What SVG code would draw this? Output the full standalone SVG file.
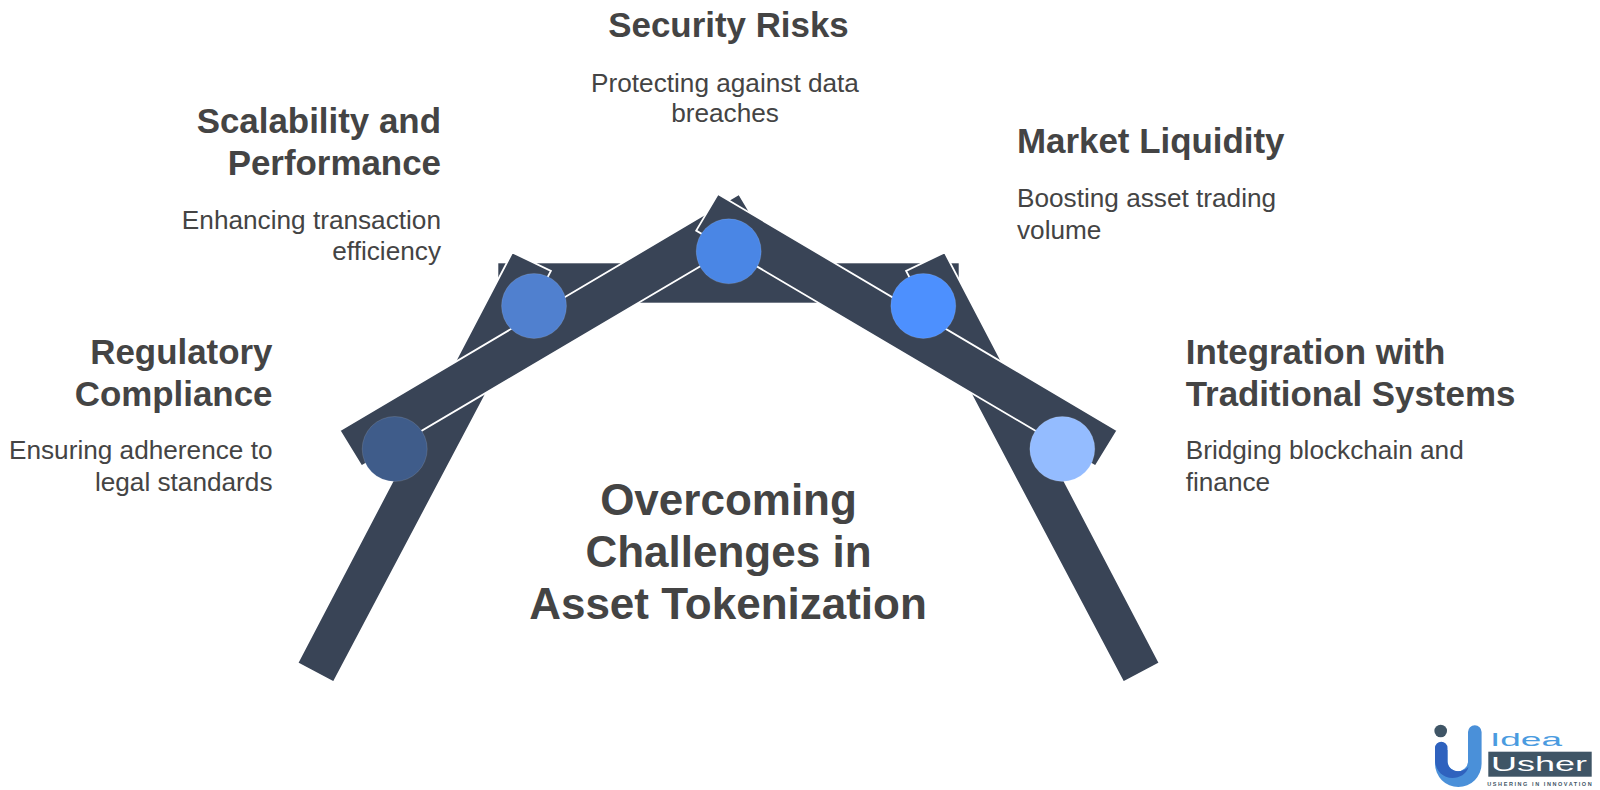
<svg xmlns="http://www.w3.org/2000/svg" width="1600" height="790" viewBox="0 0 1600 790">
<style>
text{font-family:"Liberation Sans",Arial,sans-serif;fill:#444}
.h{font-size:34.9px;font-weight:700}
.d{font-size:26.200px}
.t{font-size:44px;font-weight:700;text-anchor:middle}
.e{text-anchor:end}
.m{text-anchor:middle}
.bar{fill:#394456;stroke:#fff;stroke-width:1.8}
.c{stroke-width:1;stroke-opacity:.12;stroke:#fff}
</style>
<rect width="1600" height="790" fill="#fff"/>
<g id="connectors">
<rect class="bar" x="497.400" y="262.400" width="462.200" height="41.200"/>
<polygon class="bar" points="297.400,663 512.300,252.400 550.900,271 333.700,682.200"/>
<polygon class="bar" points="1159.600,663 944.700,252.400 906.100,271 1123.300,682.200"/>
<polygon class="bar" points="339.600,430.500 739.100,194 760.800,230.600 361.500,466.200"/>
<polygon class="bar" points="1117.400,430.500 717.900,194 696.200,230.600 1095.500,466.200"/>
</g>
<g id="node-regulatory">
<circle class="c" cx="394.700" cy="449" r="32.500" fill="#3F5C8A"/>
<text class="h e" x="272.500" y="363.500">Regulatory</text>
<text class="h e" x="272.500" y="405.500">Compliance</text>
<text class="d e" x="272.500" y="459">Ensuring adherence to</text>
<text class="d e" x="272.500" y="491">legal standards</text>
</g>
<g id="node-scalability">
<circle class="c" cx="534" cy="306" r="32.500" fill="#5080CF"/>
<text class="h e" x="441" y="132.500">Scalability and</text>
<text class="h e" x="441" y="174.500">Performance</text>
<text class="d e" x="441" y="228.500">Enhancing transaction</text>
<text class="d e" x="441" y="260">efficiency</text>
</g>
<g id="node-security">
<circle class="c" cx="728.700" cy="251.300" r="32.500" fill="#4A86E5"/>
<text class="h m" x="728.500" y="37">Security Risks</text>
<text class="d m" x="725" y="91.500">Protecting against data</text>
<text class="d m" x="725" y="122.300">breaches</text>
</g>
<g id="node-liquidity">
<circle class="c" cx="923.300" cy="306" r="32.500" fill="#4D90FE"/>
<text class="h" x="1017" y="153">Market Liquidity</text>
<text class="d" x="1017" y="207">Boosting asset trading</text>
<text class="d" x="1017" y="239">volume</text>
</g>
<g id="node-integration">
<circle class="c" cx="1062.300" cy="449" r="32.500" fill="#94BCFF"/>
<text class="h" x="1185.700" y="363.500">Integration with</text>
<text class="h" x="1185.700" y="405.500">Traditional Systems</text>
<text class="d" x="1185.700" y="459">Bridging blockchain and</text>
<text class="d" x="1185.700" y="491">finance</text>
</g>
<g id="node-title">
<text class="t" x="728.500" y="515">Overcoming</text>
<text class="t" x="728.500" y="567">Challenges in</text>
<text class="t" x="728" y="619">Asset Tokenization</text>
</g>
<g id="logo">
<circle cx="1440.700" cy="731" r="6.300" fill="#3F5566"/>
<path d="M1468 732 a6.800 6.800 0 0 1 13.600 0 V763.700 a23.300 23.300 0 0 1 -46.600 0 V750 h12.500 v12 a10.300 10.300 0 0 0 20.500 0 z" fill="#4A90D9"/>
<path d="M1435 748 a6.200 6.200 0 0 1 12.500 0 V761 c0 10 12 14 21 6 c-2 7 -9 11 -16 11 c-10 0 -17.500 -8 -17.500 -18 z" fill="#2F62BE"/>
<text x="1490" y="746" font-size="19" textLength="72" lengthAdjust="spacingAndGlyphs" style="fill:#4A9BE0">Idea</text>
<rect x="1488.300" y="751.700" width="103.400" height="25" fill="#3F5566"/>
<text x="1491" y="771" font-size="19.500" textLength="96" lengthAdjust="spacingAndGlyphs" style="fill:#fff">Usher</text>
<text x="1487.300" y="786" font-size="5.500" font-weight="700" textLength="104.400" style="fill:#3F5566">USHERING IN INNOVATION</text>
</g>
</svg>
